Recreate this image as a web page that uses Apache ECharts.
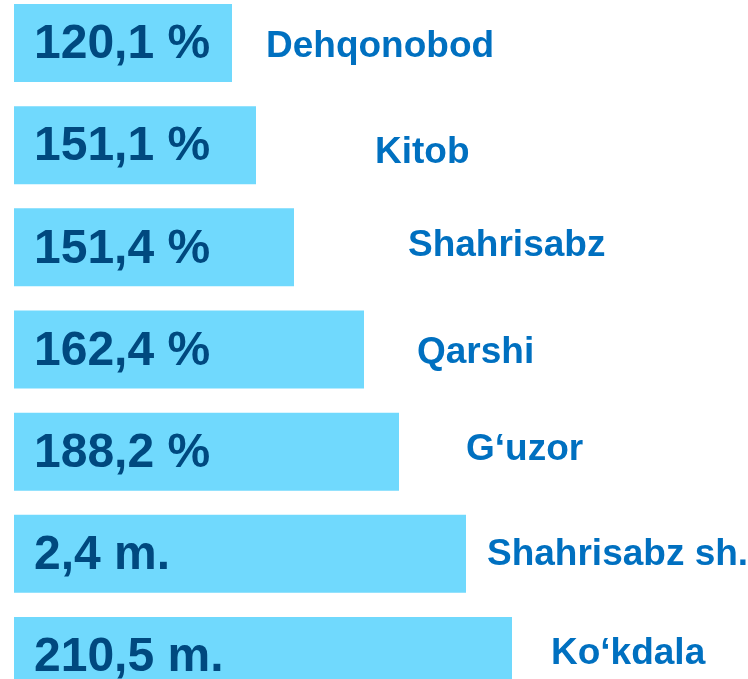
<!DOCTYPE html>
<html>
<head>
<meta charset="utf-8">
<style type="text/css">
html, body{margin: 0; padding: 0; background: #ffffff}
#chart{width: 748px; height: 679px}
</style>
<script src="https://cdn.jsdelivr.net/npm/echarts@6/dist/echarts.min.js"></script>
</head>
<body>
<div id="chart"></div>
<script type="text/javascript">
// tumanlar (yuqoridan pastga)
var districts = ['Dehqonobod', 'Kitob', 'Shahrisabz', 'Qarshi', 'G‘uzor', 'Shahrisabz sh.', 'Ko‘kdala'];
// ustun ichidagi yozuvlar
var valueLabels = ['120,1 %', '151,1 %', '151,4 %', '162,4 %', '188,2 %', '2,4 m.', '210,5 m.'];
// ustun uzunliklari (rasmdan o'lchangan)
var barLength = [218, 242, 280, 350, 385, 452, 498];

// nomlar ustun oxiridan qancha uzoqda turadi [dx, dy]
var nameOffset = [[34, 4], [119, 8], [114, -2], [53, 3], [67, -2], [21, 1], [39, -2]];

var chart = echarts.init(document.getElementById('chart'));

option = {
    animation: false,
    grid: {
        left: 14,
        top: -8,
        width: 500,
        height: 715,
        outerBoundsMode: 'none'
    },
    xAxis: {
        type: 'value',
        min: 0,
        max: 500,
        show: false
    },
    yAxis: {
        type: 'category',
        data: districts,
        inverse: true,
        show: false
    },
    series: [
        {
            type: 'bar',
            barWidth: 78,
            data: barLength,
            itemStyle: {color: '#70d9fd'},
            label: {
                show: true,
                position: 'insideLeft',
                distance: 20,
                offset: [0, 2],
                fontFamily: 'Liberation Sans',
                fontWeight: 'bold',
                fontSize: 48,
                color: '#00497f',
                formatter: function(p){ return valueLabels[p.dataIndex]; }
            }
        },
        {
            type: 'bar',
            barWidth: 78,
            barGap: '-100%',
            silent: true,
            data: barLength.map(function(v, i){
                return {
                    value: v,
                    label: {offset: nameOffset[i]}
                };
            }),
            itemStyle: {color: 'rgba(0,0,0,0)'},
            label: {
                show: true,
                position: 'right',
                distance: 0,
                fontFamily: 'Liberation Sans',
                fontWeight: 'bold',
                fontSize: 37,
                color: '#0070c0',
                formatter: function(p){ return districts[p.dataIndex]; }
            }
        }
    ]
};
chart.setOption(option);
</script>
</body>
</html>
